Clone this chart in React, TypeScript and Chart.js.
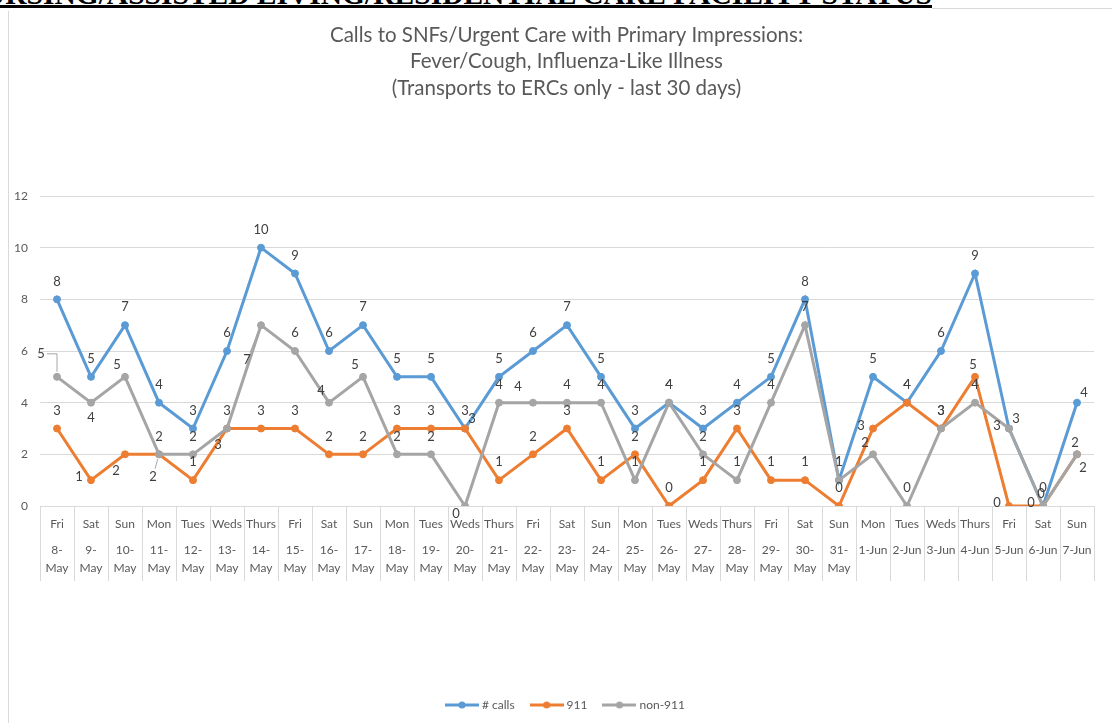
import React, { useEffect, useRef } from 'react';
import { Chart, registerables } from 'chart.js';

Chart.register(...registerables);

// ---------- data ----------
const dayLabels = [
  'Fri', 'Sat', 'Sun', 'Mon', 'Tues', 'Weds', 'Thurs',
  'Fri', 'Sat', 'Sun', 'Mon', 'Tues', 'Weds', 'Thurs',
  'Fri', 'Sat', 'Sun', 'Mon', 'Tues', 'Weds', 'Thurs',
  'Fri', 'Sat', 'Sun', 'Mon', 'Tues', 'Weds', 'Thurs',
  'Fri', 'Sat', 'Sun',
];
const dateLabels = [
  ['8-', 'May'], ['9-', 'May'], ['10-', 'May'], ['11-', 'May'], ['12-', 'May'],
  ['13-', 'May'], ['14-', 'May'], ['15-', 'May'], ['16-', 'May'], ['17-', 'May'],
  ['18-', 'May'], ['19-', 'May'], ['20-', 'May'], ['21-', 'May'], ['22-', 'May'],
  ['23-', 'May'], ['24-', 'May'], ['25-', 'May'], ['26-', 'May'], ['27-', 'May'],
  ['28-', 'May'], ['29-', 'May'], ['30-', 'May'], ['31-', 'May'],
  '1-Jun', '2-Jun', '3-Jun', '4-Jun', '5-Jun', '6-Jun', '7-Jun',
];
const callsValues = [8, 5, 7, 4, 3, 6, 10, 9, 6, 7, 5, 5, 3, 5, 6, 7, 5, 3, 4, 3, 4, 5, 8, 1, 5, 4, 6, 9, 3, 0, 4];
const calls911Values = [3, 1, 2, 2, 1, 3, 3, 3, 2, 2, 3, 3, 3, 1, 2, 3, 1, 2, 0, 1, 3, 1, 1, 0, 3, 4, 3, 5, 0, 0, 2];
const non911Values = [5, 4, 5, 2, 2, 3, 7, 6, 4, 5, 2, 2, 0, 4, 4, 4, 4, 1, 4, 2, 1, 4, 7, 1, 2, 0, 3, 4, 3, 0, 2];
const seriesNames = ['# calls', '911', 'non-911'];
const yMin = 0;
const yMax = 12;
const yStep = 2;

const titleLines = [
  'Calls to SNFs/Urgent Care with Primary Impressions:',
  'Fever/Cough, Influenza-Like Illness',
  '(Transports to ERCs only - last 30 days)',
];
const headerText = 'NURSING/ASSISTED LIVING/RESIDENTIAL CARE FACILITY STATUS';

// ---------- styles ----------
const COLORS = ['#5B9BD5', '#ED7D31', '#A5A5A5'];
const FONT = 'Lato, "Open Sans", sans-serif';
const TEXT = '#595959';
const GRID = '#D9D9D9';

// label placement codes (style only)
const OFFSETS: Record<string, [number, number]> = {
  a: [0, -18],
  as: [-2, -12],
  b: [0, 15],
  l: [-12, -3],
  al: [-8, -12],
  al2: [-15, -16],
  ar: [7, -10],
  bl: [-9, 16],
  bl0: [-9, 8],
  br: [6, 13],
  LA: [-16, -23],
  LB: [-6, 22],
  LC: [-14, 35],
};
const callsPlacement = [
  'a', 'a', 'a', 'a', 'a', 'a', 'a', 'a', 'a', 'a', 'a', 'a', 'a', 'a', 'a', 'a',
  'a', 'a', 'a', 'a', 'a', 'a', 'a', 'a', 'a', 'a', 'a', 'a', 'ar', 'a', 'ar',
];
const placement911 = [
  'a', 'l', 'bl', 'a', 'a', 'bl', 'a', 'a', 'a', 'a', 'a', 'a', 'ar', 'a', 'a', 'a',
  'a', 'a', 'a', 'a', 'a', 'a', 'a', 'a', 'l', 'a', 'a', 'as', 'l', 'l', 'br',
];
const placementNon911 = [
  'LA', 'b', 'al', 'LB', 'a', 'a', 'LC', 'a', 'al', 'al', 'a', 'a', 'bl0', 'a', 'al2', 'a',
  'a', 'a', 'a', 'a', 'a', 'a', 'a', 'a', 'al', 'a', 'a', 'a', 'l', 'as', 'as',
];
const placements = [callsPlacement, placement911, placementNon911];

function makeLegendIcon(color: string) {
  const c = document.createElement('canvas');
  c.width = 34;
  c.height = 10;
  const ctx = c.getContext('2d')!;
  ctx.strokeStyle = color;
  ctx.lineWidth = 3;
  ctx.beginPath();
  ctx.moveTo(0, 5);
  ctx.lineTo(34, 5);
  ctx.stroke();
  ctx.fillStyle = color;
  ctx.beginPath();
  ctx.arc(17, 5, 3.5, 0, Math.PI * 2);
  ctx.fill();
  return c;
}

const dataLabelPlugin = {
  id: 'pointValueLabels',
  afterDatasetsDraw(chart: any) {
    const ctx = chart.ctx;
    ctx.save();
    ctx.font = `13px ${FONT}`;
    ctx.fillStyle = '#404040';
    ctx.textAlign = 'center';
    ctx.textBaseline = 'middle';
    chart.data.datasets.forEach((ds: any, d: number) => {
      const meta = chart.getDatasetMeta(d);
      meta.data.forEach((el: any, i: number) => {
        const code = placements[d][i] || 'a';
        const [dx, dy] = OFFSETS[code];
        const lx = el.x + dx;
        const ly = el.y + dy;
        if (code === 'LA' || code === 'LB' || code === 'LC') {
          ctx.strokeStyle = '#A6A6A6';
          ctx.lineWidth = 1;
          ctx.beginPath();
          if (code === 'LA') {
            ctx.moveTo(el.x, el.y - 5);
            ctx.lineTo(el.x, ly);
            ctx.lineTo(lx + 6, ly);
          } else {
            const len = Math.hypot(dx, dy);
            const ux = dx / len;
            const uy = dy / len;
            ctx.moveTo(el.x + ux * 5, el.y + uy * 5);
            ctx.lineTo(lx - ux * 8, ly - uy * 8);
          }
          ctx.stroke();
        }
        ctx.fillText(String(ds.data[i]), lx, ly);
      });
    });
    ctx.restore();
  },
};

export default function App() {
  const canvasRef = useRef<HTMLCanvasElement | null>(null);

  useEffect(() => {
    const canvas = canvasRef.current;
    if (!canvas) return;
    const seriesValues = [callsValues, calls911Values, non911Values];
    const orders = [3, 2, 1];
    const chart = new Chart(canvas, {
      type: 'line',
      data: {
        labels: dayLabels,
        datasets: seriesValues.map((vals, k) => ({
          label: seriesNames[k],
          data: vals,
          borderColor: COLORS[k],
          backgroundColor: COLORS[k],
          pointBackgroundColor: COLORS[k],
          pointBorderColor: COLORS[k],
          borderWidth: 3,
          pointRadius: 3.5,
          pointBorderWidth: 1,
          tension: 0,
          order: orders[k],
          xAxisID: 'x',
          yAxisID: 'y',
        })),
      },
      options: {
        responsive: false,
        animation: false,
        events: [],
        layout: { padding: { left: 0, right: 0, top: 0, bottom: 2 } },
        plugins: {
          tooltip: { enabled: false },
          title: {
            display: true,
            text: titleLines,
            color: TEXT,
            font: { family: FONT, size: 20.5, weight: 'normal', lineHeight: 26.5 / 20.5 },
            padding: { top: 13, bottom: 94.5 },
          },
          legend: {
            display: true,
            position: 'bottom',
            labels: {
              usePointStyle: true,
              pointStyleWidth: 28,
              boxHeight: 12,
              padding: 18,
              color: TEXT,
              font: { family: FONT, size: 12 },
              generateLabels: (ch: any) =>
                ch.data.datasets.map((ds: any, k: number) => ({
                  text: ds.label,
                  pointStyle: makeLegendIcon(COLORS[k]),
                  fillStyle: COLORS[k],
                  strokeStyle: COLORS[k],
                  lineWidth: 0,
                  hidden: false,
                  datasetIndex: k,
                  fontColor: TEXT,
                })),
            },
          },
        },
        scales: {
          x: {
            type: 'category',
            position: 'bottom',
            offset: true,
            grid: {
              display: true,
              drawOnChartArea: false,
              drawTicks: true,
              tickLength: 75,
              offset: true,
              color: GRID,
              lineWidth: 1,
            },
            border: { display: true, color: GRID, width: 1 },
            ticks: {
              autoSkip: false,
              maxRotation: 0,
              minRotation: 0,
              padding: 11 - 75,
              color: TEXT,
              font: { family: FONT, size: 12 },
            },
            afterFit: (s: any) => {
              s.height = 26;
            },
          },
          x2: {
            type: 'category',
            position: 'bottom',
            labels: dateLabels as any,
            offset: true,
            grid: { display: false, drawTicks: false },
            border: { display: false },
            ticks: {
              autoSkip: false,
              maxRotation: 0,
              minRotation: 0,
              padding: 9,
              color: TEXT,
              font: { family: FONT, size: 12, lineHeight: 1.5 },
            },
            afterFit: (s: any) => {
              s.height = 149;
            },
          },
          y: {
            type: 'linear',
            min: yMin,
            max: yMax,
            ticks: {
              stepSize: yStep,
              padding: 12,
              color: TEXT,
              font: { family: FONT, size: 12 },
            },
            grid: { color: GRID, lineWidth: 1, drawTicks: false },
            border: { display: false },
            afterFit: (s: any) => {
              s.width = 31;
            },
          },
          yRightSpace: {
            type: 'linear',
            position: 'right',
            min: yMin,
            max: yMax,
            ticks: { display: false },
            grid: { display: false, drawTicks: false },
            border: { display: false },
            afterFit: (s: any) => {
              s.width = 30;
            },
          },
        },
      },
      plugins: [dataLabelPlugin],
    } as any);
    return () => chart.destroy();
  }, []);

  return (
    <div
      style={{
        position: 'fixed',
        left: 0,
        top: 0,
        width: 1112,
        height: 723,
        overflow: 'hidden',
        background: '#fff',
      }}
    >
      <div
        style={{
          position: 'absolute',
          left: 8,
          top: 8,
          width: 1200,
          height: 800,
          borderLeft: `1px solid ${GRID}`,
          borderTop: `1px solid ${GRID}`,
          boxSizing: 'border-box',
        }}
      />
      <div
        style={{
          position: 'absolute',
          right: 180,
          top: -23,
          whiteSpace: 'nowrap',
          fontFamily: '"Liberation Serif", "Times New Roman", serif',
          fontWeight: 'bold',
          fontSize: 29.5,
          lineHeight: '34px',
          color: '#000',
          textDecoration: 'underline',
          textDecorationThickness: '3px',
          textUnderlineOffset: '1px',
          background: '#fff',
        }}
      >
        {headerText}
      </div>
      <canvas
        ref={canvasRef}
        width={1115}
        height={714}
        style={{ position: 'absolute', left: 9, top: 9, width: 1115, height: 714 }}
      />
    </div>
  );
}
